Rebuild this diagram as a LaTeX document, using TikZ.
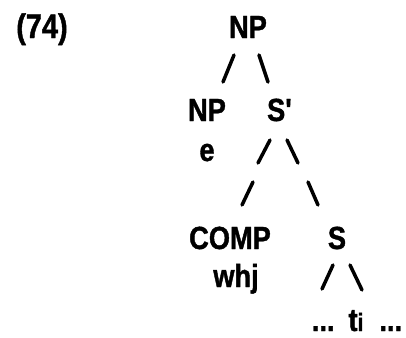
\documentclass[tikz,border=0pt]{standalone}
\usepackage{fontspec}
\setmainfont{Liberation Sans}[FakeStretch=0.85, BoldFeatures={FakeBold=1.2}]
\usetikzlibrary{positioning}

\begin{document}
\begin{tikzpicture}[x=1pt, y=-1pt,
    every node/.style={font=\fontsize{32}{32}\selectfont\bfseries, inner sep=0pt, anchor=base},
    branch/.style={line width=3.5pt, line cap=round}]

    \useasboundingbox (0,0) rectangle (406,337);

    \node (ex)   at (42,38)   {\fontsize{34}{34}\selectfont(74)};
    \node (np0)  at (248,38)  {NP};
    \node (np1)  at (207,121) {NP};
    \node (sbar) at (280,121) {S\textquotesingle};
    \node (e)    at (207,161) {e};
    \node (comp) at (230,249) {COMP};
    \node (s)    at (337,249) {S};
    \node (wh)   at (236,287) {whj};
    \node (ti)   at (357,331) {...\hspace{14pt}t{\fontsize{25}{25}\selectfont i}\hspace{16pt}...};

    % branches, drawn as short strokes
    \coordinate (a1) at (234,55);  \coordinate (a2) at (223,82);
    \coordinate (b1) at (259,55);  \coordinate (b2) at (268,82);
    \coordinate (c1) at (270,140); \coordinate (c2) at (258,163);
    \coordinate (d1) at (287,140); \coordinate (d2) at (298,163);
    \coordinate (f1) at (253,182); \coordinate (f2) at (242,205);
    \coordinate (g1) at (308,182); \coordinate (g2) at (318,205);
    \coordinate (h1) at (333,265); \coordinate (h2) at (322,289);
    \coordinate (k1) at (350,265); \coordinate (k2) at (362,290);

    \path[branch]
        (a1) edge (a2)
        (b1) edge (b2)
        (c1) edge (c2)
        (d1) edge (d2)
        (f1) edge (f2)
        (g1) edge (g2)
        (h1) edge (h2)
        (k1) edge (k2);

\end{tikzpicture}
\end{document}
